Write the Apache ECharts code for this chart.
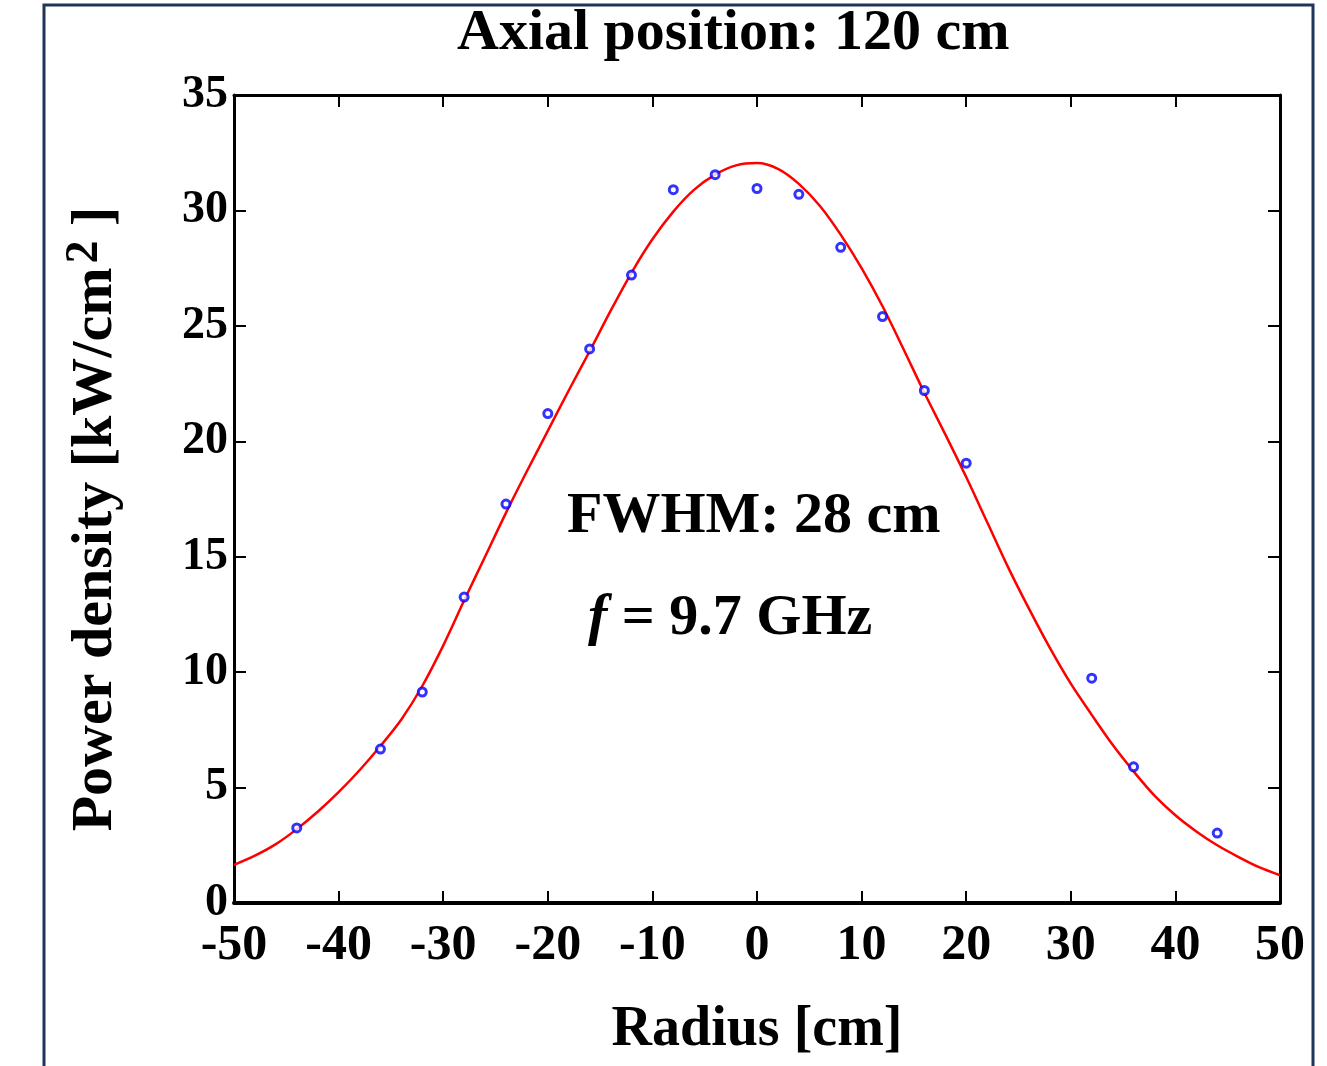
<!DOCTYPE html>
<html>
<head>
<meta charset="utf-8">
<script src="https://cdn.jsdelivr.net/npm/echarts@6/dist/echarts.min.js"></script>
<style>
html,body{margin:0;padding:0;background:#fff;}
#chart{width:1327px;height:1066px;}
</style>
</head>
<body>
<div id="chart"></div>
<script>
// Measured points
const radius = [-44, -36, -32, -28, -24, -20, -16, -12, -8, -4, 0, 4, 8, 12, 16, 20, 32, 36, 44];
const measured = [3.25, 6.67, 9.14, 13.25, 17.28, 21.2, 24.0, 27.2, 30.9, 31.55, 30.95, 30.7, 28.4, 25.4, 22.2, 19.05, 9.74, 5.9, 3.03];
// Fitted curve (every 2 cm)
const fitX = [-50, -48, -46, -44, -42, -40, -38, -36, -34, -32, -30, -28, -26, -24, -22, -20, -18, -16, -14, -12, -10, -8, -6, -4, -2, 0, 2, 4, 6, 8, 10, 12, 14, 16, 18, 20, 22, 24, 26, 28, 30, 32, 34, 36, 38, 40, 42, 44, 46, 48, 50];
const fitY = [1.65, 2.05, 2.55, 3.2, 3.95, 4.8, 5.75, 6.8, 7.95, 9.4, 11.15, 13.1, 15.0, 16.9, 18.7, 20.45, 22.2, 23.9, 25.65, 27.3, 28.75, 29.95, 30.9, 31.55, 31.95, 32.05, 31.8, 31.15, 30.2, 28.95, 27.5, 25.85, 24.0, 22.1, 20.3, 18.45, 16.5, 14.55, 12.75, 11.05, 9.5, 8.15, 6.85, 5.7, 4.65, 3.8, 3.1, 2.5, 2.0, 1.55, 1.2];
// Axis ranges / ticks
const xRange = [-50, 50], xStep = 10;
const yRange = [0, 35], yStep = 5;

const FONT = "'Liberation Serif', 'Times New Roman', serif";

const chart = echarts.init(document.getElementById('chart'));
const tickStyle = { show: true, inside: true, length: 12, lineStyle: { color: '#000', width: 2 } };
const lineStyle = { color: '#000', width: 3 };

chart.setOption({
  backgroundColor: '#fff',
  animation: false,
  title: {
    text: 'Axial position: 120 cm',
    left: 452, top: 0,
    textStyle: { fontFamily: FONT, fontSize: 58, fontWeight: 'bold', color: '#000' }
  },
  grid: { left: 234, right: 47, top: 95, bottom: 163 },
  xAxis: [{
    type: 'value', min: xRange[0], max: xRange[1], interval: xStep,
    axisLine: { show: true, onZero: false, lineStyle: { color: '#000', width: 4 } },
    axisTick: tickStyle,
    splitLine: { show: false },
    axisLabel: { fontFamily: FONT, fontSize: 50, fontWeight: 'bold', color: '#000', margin: 18 },
    name: 'Radius [cm]', nameLocation: 'middle', nameGap: 100,
    nameTextStyle: { fontFamily: FONT, fontSize: 56, fontWeight: 'bold', color: '#000' }
  }, {
    type: 'value', position: 'top', min: xRange[0], max: xRange[1], interval: xStep,
    axisLine: { show: true, onZero: false, lineStyle: lineStyle },
    axisTick: tickStyle, axisLabel: { show: false }, splitLine: { show: false }
  }],
  yAxis: [{
    type: 'value', min: yRange[0], max: yRange[1], interval: yStep,
    axisLine: { show: true, onZero: false, lineStyle: lineStyle },
    axisTick: tickStyle,
    splitLine: { show: false },
    axisLabel: { fontFamily: FONT, fontSize: 46, fontWeight: 'bold', color: '#000', margin: 6 },
    name: 'Power density [kW/cm{sup|2} ]', nameLocation: 'middle', nameGap: 104,
    nameTextStyle: {
      fontFamily: FONT, fontSize: 58, fontWeight: 'bold', color: '#000',
      padding: [0, 40, 0, 0],
      rich: { sup: { fontFamily: FONT, fontSize: 46, fontWeight: 'bold', color: '#000', verticalAlign: 'top', padding: [0, 0, 22, 4] } }
    }
  }, {
    type: 'value', position: 'right', min: yRange[0], max: yRange[1], interval: yStep,
    axisLine: { show: true, onZero: false, lineStyle: lineStyle },
    axisTick: tickStyle, axisLabel: { show: false }, splitLine: { show: false }
  }],
  series: [{
    type: 'line', name: 'fit',
    data: fitX.map((x, i) => [x, fitY[i]]),
    smooth: 0.3, showSymbol: false, symbol: 'none',
    lineStyle: { color: '#ff0000', width: 2.5 },
    z: 3
  }, {
    type: 'scatter', name: 'measured',
    data: radius.map((x, i) => [x, measured[i]]),
    symbol: 'circle', symbolSize: 8,
    itemStyle: { color: '#ffffff', borderColor: '#0000ff', borderWidth: 3 },
    z: 4
  }],
  graphic: [{
    type: 'rect', silent: true, z: -1,
    shape: { x: 44, y: 5, width: 1269, height: 1120 },
    style: { fill: 'none', stroke: '#1f3659', lineWidth: 3 }
  }, {
    type: 'text', left: 567, top: 488,
    style: { text: 'FWHM: 28 cm', font: "bold 58px 'Liberation Serif', serif", fill: '#000' }
  }, {
    type: 'text', left: 588, top: 590,
    style: {
      text: '{i|f} = 9.7 GHz', font: "bold 58px 'Liberation Serif', serif", fill: '#000',
      rich: { i: { fontFamily: FONT, fontSize: 58, fontWeight: 'bold', fontStyle: 'italic', fill: '#000' } }
    }
  }]
});
</script>
</body>
</html>
